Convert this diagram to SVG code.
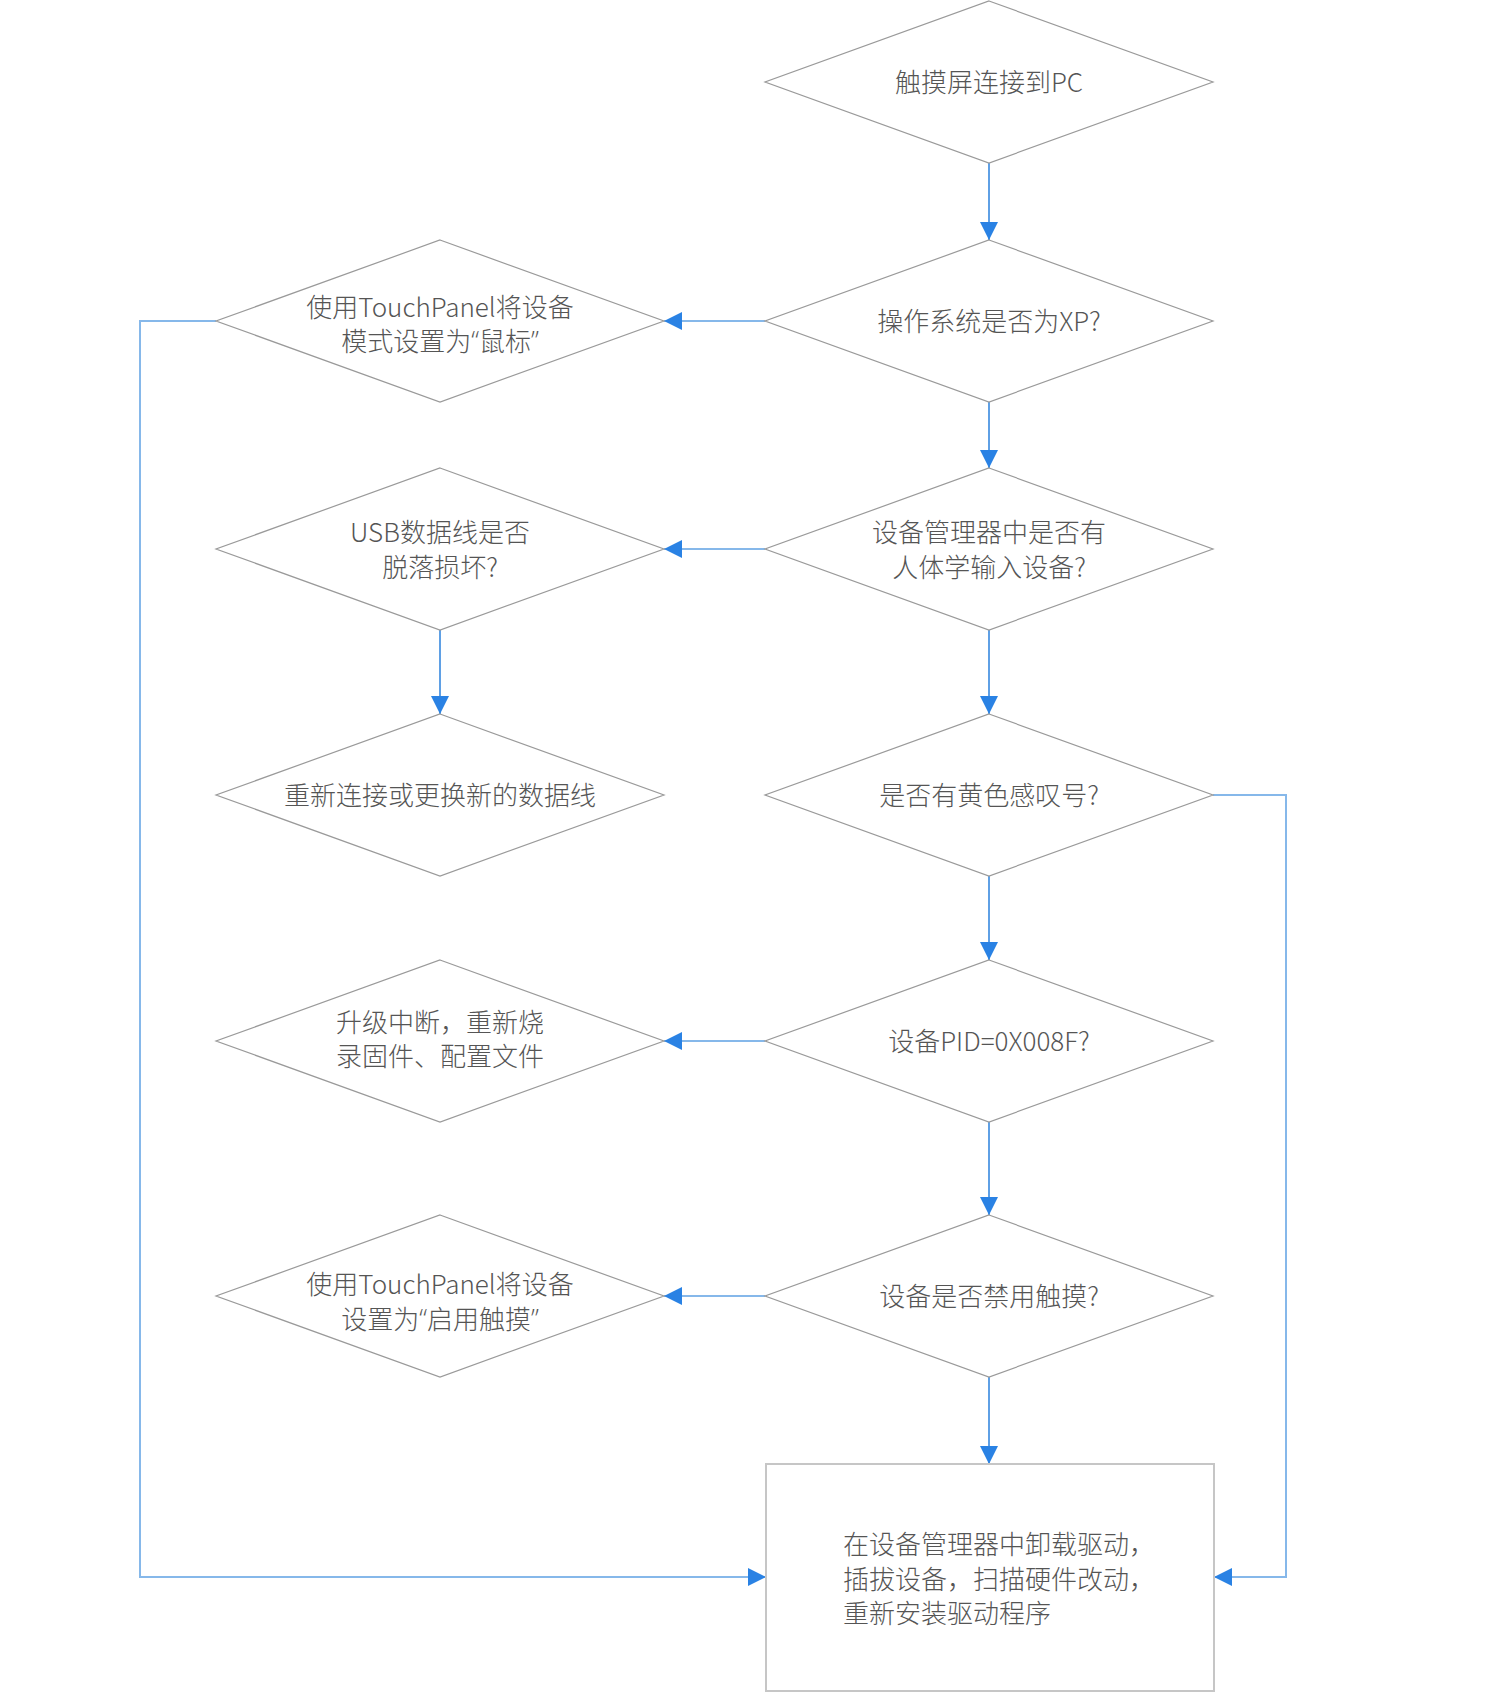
<svg xmlns="http://www.w3.org/2000/svg" width="1500" height="1693" viewBox="0 0 1500 1693">
<style>
.d{fill:#fff;stroke:#9a9a9a;stroke-width:1.2}
.b{fill:#fff;stroke:#c6c6c6;stroke-width:2}
.t{font-family:"Noto Sans CJK SC","Microsoft YaHei",sans-serif;font-size:26px;font-weight:300;fill:#555;text-anchor:middle;dominant-baseline:central}
.tl{text-anchor:start}
.q{font-family:"Open Sans","Liberation Sans",sans-serif;font-weight:300}
.v{fill:none;stroke:#2a80dc;stroke-width:1.5}
.h{fill:none;stroke:#86b8ea;stroke-width:2}
</style>
<defs>
<marker id="ah" markerUnits="userSpaceOnUse" markerWidth="19" markerHeight="18" refX="18" refY="9" orient="auto">
<path d="M0,0 L18,9 L0,18 z" fill="#2a82e4"/>
</marker>
</defs>
<rect width="1500" height="1693" fill="#fff"/>
<g id="connectors">
<path class="v" d="M989,163 V240" marker-end="url(#ah)"/>
<path class="h" d="M765,321 H664" marker-end="url(#ah)"/>
<path class="h" d="M216,321 H140 V1577 H766" marker-end="url(#ah)"/>
<path class="v" d="M989,402 V468" marker-end="url(#ah)"/>
<path class="h" d="M765,549 H664" marker-end="url(#ah)"/>
<path class="v" d="M440,630 V714" marker-end="url(#ah)"/>
<path class="v" d="M989,630 V714" marker-end="url(#ah)"/>
<path class="h" d="M1213,795 H1286 V1577 H1214" marker-end="url(#ah)"/>
<path class="v" d="M989,876 V960" marker-end="url(#ah)"/>
<path class="h" d="M765,1041 H664" marker-end="url(#ah)"/>
<path class="v" d="M989,1122 V1215" marker-end="url(#ah)"/>
<path class="h" d="M765,1296 H664" marker-end="url(#ah)"/>
<path class="v" d="M989,1377 V1464" marker-end="url(#ah)"/>
</g>
<g id="n1"><polygon class="d" points="989,1 1213,82 989,163 765,82"/><text class="t" x="989" y="80">触摸屏连接到PC</text></g>
<g id="n2"><polygon class="d" points="989,240 1213,321 989,402 765,321"/><text class="t" x="989" y="319">操作系统是否为XP?</text></g>
<g id="n3"><polygon class="d" points="989,468 1213,549 989,630 765,549"/><text class="t" x="989" y="530">设备管理器中是否有</text><text class="t" x="989" y="565">人体学输入设备?</text></g>
<g id="n4"><polygon class="d" points="989,714 1213,795 989,876 765,795"/><text class="t" x="989" y="793">是否有黄色感叹号?</text></g>
<g id="n5"><polygon class="d" points="989,960 1213,1041 989,1122 765,1041"/><text class="t" x="989" y="1039">设备PID=0X008F?</text></g>
<g id="n6"><polygon class="d" points="989,1215 1213,1296 989,1377 765,1296"/><text class="t" x="989" y="1294">设备是否禁用触摸?</text></g>
<g id="l1"><polygon class="d" points="440,240 664,321 440,402 216,321"/><text class="t" x="440" y="305">使用TouchPanel将设备</text><text class="t" x="440" y="339">模式设置为<tspan class="q">“</tspan>鼠标<tspan class="q">”</tspan></text></g>
<g id="l2"><polygon class="d" points="440,468 664,549 440,630 216,549"/><text class="t" x="440" y="530">USB数据线是否</text><text class="t" x="440" y="565">脱落损坏?</text></g>
<g id="l3"><polygon class="d" points="440,714 664,795 440,876 216,795"/><text class="t" x="440" y="793">重新连接或更换新的数据线</text></g>
<g id="l4"><polygon class="d" points="440,960 664,1041 440,1122 216,1041"/><text class="t" x="440" y="1020">升级中断，重新烧</text><text class="t" x="440" y="1054">录固件、配置文件</text></g>
<g id="l5"><polygon class="d" points="440,1215 664,1296 440,1377 216,1296"/><text class="t" x="440" y="1282">使用TouchPanel将设备</text><text class="t" x="440" y="1317">设置为<tspan class="q">“</tspan>启用触摸<tspan class="q">”</tspan></text></g>
<g id="box"><rect class="b" x="766" y="1464" width="448" height="227"/>
<text class="t tl" x="843" y="1542">在设备管理器中卸载驱动，</text>
<text class="t tl" x="843" y="1577">插拔设备，扫描硬件改动，</text>
<text class="t tl" x="843" y="1611">重新安装驱动程序</text></g>
</svg>
